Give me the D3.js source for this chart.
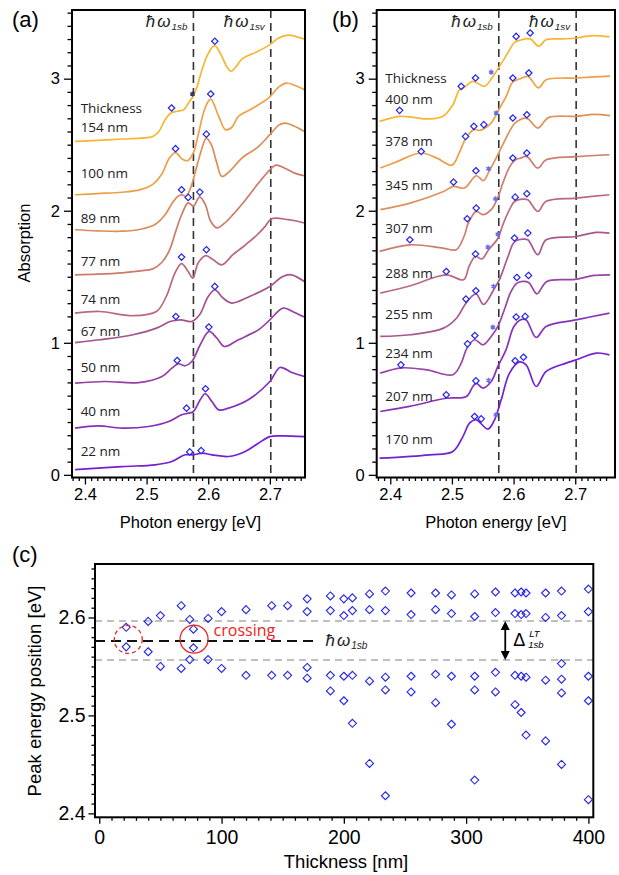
<!DOCTYPE html>
<html><head><meta charset="utf-8">
<script src="https://cdn.jsdelivr.net/npm/d3@7"></script>
<style>
body{margin:0;background:#fff;}
svg{display:block;}
</style></head><body>
<svg id="chart" width="619" height="875"></svg>
<script>
// ================= DATA =================
// Panel (a): thickness (nm) and spectra [photon energy eV, absorption]
const thickA = [154, 100, 89, 77, 74, 67, 50, 40, 22];
const a154 = [[2.384,2.525],[2.42,2.533],[2.46,2.543],[2.49,2.55],[2.51,2.562],[2.52,2.60],[2.53,2.689],[2.54,2.742],[2.55,2.753],[2.56,2.765],[2.57,2.83],[2.576,2.87],[2.582,2.94],[2.59,3.07],[2.60,3.19],[2.61,3.25],[2.62,3.19],[2.63,3.09],[2.637,3.056],[2.645,3.09],[2.655,3.15],[2.68,3.205],[2.70,3.258],[2.715,3.31],[2.73,3.33],[2.745,3.315],[2.756,3.30]];
const a100 = [[2.384,2.121],[2.42,2.13],[2.46,2.14],[2.49,2.16],[2.51,2.20],[2.525,2.28],[2.537,2.40],[2.547,2.44],[2.558,2.39],[2.567,2.38],[2.576,2.44],[2.585,2.60],[2.595,2.78],[2.604,2.845],[2.617,2.714],[2.628,2.614],[2.638,2.63],[2.649,2.714],[2.67,2.77],[2.698,2.854],[2.715,2.94],[2.727,2.967],[2.74,2.95],[2.756,2.917]];
const a89 = [[2.384,1.856],[2.42,1.848],[2.46,1.845],[2.49,1.86],[2.515,1.90],[2.53,1.97],[2.542,2.06],[2.551,2.11],[2.557,2.12],[2.564,2.11],[2.572,2.18],[2.58,2.31],[2.589,2.46],[2.597,2.55],[2.605,2.50],[2.614,2.36],[2.622,2.26],[2.635,2.30],[2.655,2.40],[2.68,2.48],[2.70,2.576],[2.715,2.65],[2.725,2.664],[2.74,2.64],[2.756,2.60]];
const a77 = [[2.384,1.515],[2.42,1.52],[2.46,1.53],[2.49,1.545],[2.51,1.56],[2.525,1.61],[2.537,1.70],[2.547,1.84],[2.556,1.96],[2.5675,2.06],[2.576,2.035],[2.586,2.105],[2.595,2.05],[2.604,1.92],[2.614,1.87],[2.625,1.90],[2.64,1.97],[2.66,2.08],[2.68,2.20],[2.70,2.31],[2.71,2.345],[2.725,2.32],[2.74,2.285],[2.756,2.265]];
const a74 = [[2.384,1.225],[2.424,1.237],[2.478,1.205],[2.516,1.237],[2.532,1.351],[2.546,1.528],[2.5567,1.60],[2.5674,1.54],[2.575,1.49],[2.5836,1.604],[2.596,1.66],[2.608,1.629],[2.622,1.59],[2.64,1.667],[2.66,1.74],[2.68,1.82],[2.692,1.88],[2.703,1.94],[2.73,1.932],[2.756,1.907]];
const a67 = [[2.384,1.002],[2.424,1.023],[2.478,1.061],[2.516,1.111],[2.538,1.161],[2.548,1.17],[2.556,1.174],[2.573,1.161],[2.586,1.212],[2.60,1.351],[2.611,1.40],[2.624,1.339],[2.638,1.301],[2.667,1.351],[2.70,1.427],[2.72,1.50],[2.735,1.515],[2.756,1.464]];
const a50 = [[2.384,0.695],[2.433,0.707],[2.487,0.699],[2.525,0.745],[2.541,0.808],[2.551,0.841],[2.5626,0.826],[2.5734,0.858],[2.587,0.985],[2.6015,1.086],[2.614,1.035],[2.6264,0.972],[2.649,1.023],[2.6815,1.098],[2.70,1.174],[2.7214,1.263],[2.74,1.23],[2.756,1.195]];
const a40 = [[2.384,0.354],[2.422,0.371],[2.46,0.354],[2.503,0.366],[2.536,0.404],[2.557,0.455],[2.568,0.467],[2.576,0.48],[2.587,0.568],[2.595,0.614],[2.606,0.555],[2.617,0.492],[2.633,0.505],[2.665,0.568],[2.70,0.707],[2.7165,0.813],[2.7355,0.775],[2.756,0.745]];
const a22 = [[2.384,0.04],[2.46,0.063],[2.514,0.076],[2.541,0.101],[2.5626,0.152],[2.576,0.152],[2.59,0.164],[2.606,0.152],[2.633,0.139],[2.66,0.177],[2.6815,0.240],[2.70,0.290],[2.719,0.295],[2.756,0.290]];
const spectraA = [a154, a100, a89, a77, a74, a67, a50, a40, a22];
const labelLevelA = [2.634, 2.286, 1.945, 1.623, 1.331, 1.093, 0.813, 0.48, 0.182];
const peaksA = [[2.5405,2.778],[2.6107,3.283],[2.547,2.47],[2.604,2.884],[2.5567,2.159],[2.597,2.58],[2.5675,2.101],[2.5864,2.141],[2.5567,1.649],[2.597,1.705],[2.5475,1.199],[2.6107,1.427],[2.5496,0.866],[2.601,1.119],[2.5648,0.505],[2.5956,0.652],[2.570,0.174],[2.5885,0.184]];
const starsA = [[2.5745,2.884]];

// Panel (b)
const thickB = [400, 378, 345, 307, 288, 255, 234, 207, 170];
const b400 = [[2.3827,2.677],[2.4151,2.715],[2.4313,2.710],[2.4637,2.695],[2.4854,2.715],[2.5016,2.803],[2.5124,2.917],[2.5189,2.930],[2.534,2.980],[2.5529,2.942],[2.5664,3.017],[2.5772,3.093],[2.5907,3.195],[2.6015,3.275],[2.6096,3.290],[2.6269,3.301],[2.6409,3.245],[2.6528,3.295],[2.6798,3.301],[2.7015,3.308],[2.7285,3.326],[2.7555,3.316]];
const b378 = [[2.3838,2.323],[2.41,2.37],[2.4486,2.437],[2.475,2.40],[2.50,2.345],[2.512,2.44],[2.5221,2.545],[2.5356,2.614],[2.545,2.608],[2.5518,2.62],[2.5637,2.664],[2.5745,2.752],[2.588,2.866],[2.5988,2.975],[2.6096,2.997],[2.6231,3.017],[2.6404,2.93],[2.6528,2.992],[2.7015,3.005],[2.7566,3.02]];
const b345 = [[2.3838,2.008],[2.4324,2.058],[2.4864,2.146],[2.5026,2.184],[2.5205,2.172],[2.5394,2.265],[2.5513,2.228],[2.5594,2.29],[2.573,2.41],[2.5945,2.61],[2.6026,2.665],[2.6215,2.70],[2.6393,2.626],[2.6566,2.705],[2.7015,2.715],[2.73,2.73],[2.7566,2.72]];
const b307 = [[2.3827,1.692],[2.4318,1.742],[2.4854,1.717],[2.507,1.705],[2.5205,1.816],[2.526,1.90],[2.5394,1.995],[2.5502,1.97],[2.5637,2.008],[2.5745,2.10],[2.5826,2.21],[2.5934,2.33],[2.6015,2.38],[2.612,2.40],[2.6215,2.41],[2.6393,2.323],[2.6528,2.386],[2.7015,2.41],[2.7555,2.424]];
const b288 = [[2.3838,1.376],[2.4313,1.43],[2.4908,1.515],[2.5188,1.477],[2.528,1.58],[2.5383,1.655],[2.5486,1.635],[2.5594,1.705],[2.5745,1.79],[2.5826,1.894],[2.5934,2.008],[2.6015,2.07],[2.615,2.088],[2.6231,2.083],[2.6393,1.995],[2.6528,2.071],[2.7015,2.096],[2.7555,2.121]];
const b255 = [[2.3838,1.048],[2.4324,1.061],[2.4864,1.111],[2.5081,1.19],[2.5227,1.30],[2.5389,1.37],[2.5513,1.29],[2.5675,1.40],[2.5772,1.48],[2.5907,1.65],[2.6015,1.765],[2.615,1.785],[2.6231,1.78],[2.6393,1.667],[2.6528,1.78],[2.7015,1.805],[2.734,1.836],[2.7555,1.831]];
const b234 = [[2.3838,0.770],[2.4189,0.81],[2.4594,0.795],[2.5016,0.758],[2.5151,0.846],[2.5243,0.96],[2.5367,1.023],[2.5502,0.985],[2.5637,1.048],[2.5745,1.124],[2.585,1.25],[2.595,1.38],[2.605,1.45],[2.615,1.465],[2.625,1.455],[2.6377,1.371],[2.654,1.465],[2.70,1.48],[2.73,1.51],[2.7566,1.515]];
const b207 = [[2.3838,0.48],[2.4313,0.518],[2.4908,0.58],[2.5232,0.593],[2.534,0.669],[2.5394,0.695],[2.5502,0.657],[2.5637,0.707],[2.5745,0.821],[2.588,0.95],[2.60,1.12],[2.61,1.17],[2.62,1.175],[2.6366,1.04],[2.6528,1.124],[2.7015,1.174],[2.7555,1.225]];
const b170 = [[2.3827,0.126],[2.4637,0.152],[2.5016,0.177],[2.5178,0.29],[2.5286,0.391],[2.5394,0.417],[2.5583,0.346],[2.5691,0.417],[2.5799,0.568],[2.5934,0.77],[2.6096,0.855],[2.6204,0.833],[2.6366,0.669],[2.6528,0.783],[2.6852,0.846],[2.7015,0.871],[2.734,0.922],[2.7555,0.909]];
const spectraB = [b400, b378, b345, b307, b288, b255, b234, b207, b170];
const labelLevelB = [2.846, 2.525, 2.197, 1.869, 1.528, 1.22, 0.922, 0.598, 0.273];
const peaksB = [[2.4151,2.76],[2.5151,2.942],[2.5383,3.005],[2.6042,3.32],[2.6269,3.346],
  [2.4502,2.449],[2.5221,2.563],[2.5356,2.639],[2.5518,2.652],[2.5988,3.005],[2.6247,3.043],
  [2.5026,2.217],[2.5389,2.303],[2.5988,2.702],[2.6215,2.727],
  [2.4318,1.78],[2.5248,1.939],[2.5394,2.02],[2.5988,2.399],[2.6215,2.437],
  [2.4908,1.54],[2.5383,1.672],[2.6026,2.103],[2.6215,2.129],
  [2.5227,1.331],[2.5389,1.394],[2.6015,1.793],[2.6231,1.831],
  [2.4173,0.833],[2.5253,0.992],[2.5372,1.055],[2.6053,1.495],[2.6242,1.51],
  [2.4908,0.606],[2.5389,0.712],[2.6042,1.195],[2.6188,1.20],
  [2.5367,0.442],[2.5475,0.424],[2.6026,0.864],[2.6161,0.891]];
const starsB = [[2.5637,3.05],[2.5718,2.74],[2.5594,2.318],[2.5707,2.09],[2.5583,1.725],[2.5745,1.823],[2.5675,1.427],[2.5664,1.119],[2.5594,0.715],[2.5713,0.455]];

// Reference energies (eV)
const hw1sb = 2.576, hw1sv = 2.7015;
const ltUpper = 2.5964, ltLower = 2.5566;

// Panel (c): peak energy positions vs thickness
const cThickness = [22,40,50,67,74,77,89,100,120,141,154,170,189,200,207,221,234,255,275,288,307,324,340,345,349,365,378,400];
const cPeakEnergies = [
  [2.590,2.570],[2.596,2.565],[2.602,2.550],[2.612,2.548],[2.598,2.557],[2.588,2.569],[2.599,2.557],[2.606,2.548],
  [2.608,2.541],[2.612,2.541],[2.612,2.541],
  [2.619,2.606,2.549,2.538],[2.622,2.607,2.541,2.525],[2.619,2.602,2.540,2.515],[2.620,2.607,2.541,2.492],
  [2.624,2.608,2.535,2.451],[2.627,2.607,2.539,2.526,2.418],[2.625,2.603,2.540,2.524],[2.625,2.608,2.542,2.513],
  [2.623,2.604,2.540,2.491],[2.624,2.601,2.540,2.526,2.434],[2.626,2.605,2.544,2.524],[2.625,2.604,2.541,2.511],
  [2.626,2.603,2.540,2.503],[2.625,2.604,2.539,2.480],[2.625,2.600,2.536,2.474],
  [2.627,2.602,2.553,2.537,2.523,2.450],[2.629,2.606,2.540,2.515,2.414]];
const crossingMarks = [[23.7,2.5776],[77.5,2.5779]];

// Curve colours (thick -> thin)
const colorsA = ["#f8b630","#eda046","#dc8d58","#cb7b6a","#ba687c","#a6528f","#963fa6","#872fbd","#761ed4"];
const colorsB = ["#f8b630","#eda046","#e0905a","#cc7d6c","#bb6a7e","#aa5690","#9944a6","#8632bd","#7420d4"];

// ================= DRAW =================
const svg = d3.select("#chart");
const SANS = "'Liberation Sans', Arial, sans-serif";
const LABF = "'Open Sans', 'Liberation Sans', sans-serif";
const diamond = r => `M0,${-r}L${r},0L0,${r}L${-r},0Z`;

function styleAxis(g, fs){
  g.select(".domain").remove();
  g.selectAll(".tick line").attr("stroke","#000").attr("stroke-width",1.3);
  g.selectAll(".tick text").attr("fill","#000").style("font-family",SANS).style("font-size",fs+"px");
}

function hwLabel(g, x, y, sub, fs){
  const t = g.append("text").attr("x",x).attr("y",y).attr("text-anchor","end")
    .style("font-family",SANS).style("font-size",fs+"px").style("font-style","italic").attr("fill","#222");
  t.append("tspan").text("ħ");
  t.append("tspan").attr("dx",2).text("ω");
  t.append("tspan").attr("dx",1).attr("dy",3).style("font-size",(fs*0.58)+"px").text(sub);
  return t;
}

function spectraPanel(cfg){
  const x = d3.scaleLinear().domain(cfg.xDomain).range(cfg.xRange);
  const y = d3.scaleLinear().domain([-0.02,3.52]).range([477.5,10]);
  const g = svg.append("g");
  const [x0,x1] = cfg.xRange, yT = 10, yB = 477.5;
  // dashed reference lines
  [hw1sb, hw1sv].forEach(e=>{
    g.append("line").attr("x1",x(e)).attr("x2",x(e)).attr("y1",yT).attr("y2",yB)
      .attr("stroke","#333").attr("stroke-width",1.6).attr("stroke-dasharray","8,5");
  });
  hwLabel(g, x(hw1sb)-6, 27, "1sb", 17);
  hwLabel(g, x(hw1sv)-6, 27, "1sv", 17);
  // curves
  const line = d3.line().x(d=>x(d[0])).y(d=>y(d[1])).curve(d3.curveCatmullRom.alpha(0.5));
  cfg.spectra.forEach((s,i)=>{
    g.append("path").attr("d",line(s)).attr("fill","none")
      .attr("stroke",cfg.colors[i]).attr("stroke-width",1.7).attr("stroke-linejoin","round");
  });
  // peak markers
  g.selectAll(null).data(cfg.peaks).enter().append("path")
    .attr("d",diamond(3.2)).attr("transform",d=>`translate(${x(d[0])},${y(d[1])})`)
    .attr("fill","#fff").attr("stroke","#2323ee").attr("stroke-width",1.2);
  g.selectAll(null).data(cfg.stars).enter().append("path")
    .attr("d",d3.symbol(d3.symbolAsterisk,18)()).attr("transform",d=>`translate(${x(d[0])},${y(d[1])})`)
    .attr("fill","none").attr("stroke",cfg.starColor).attr("stroke-width",1.4);
  // thickness labels
  g.append("text").attr("x",x(cfg.labelE)).attr("y",y(cfg.wordLevel)).attr("dominant-baseline","central")
    .style("font-family",LABF).style("font-size","13.5px").attr("fill","#222").text("Thickness");
  cfg.thick.forEach((t,i)=>{
    g.append("text").attr("x",x(cfg.labelE)).attr("y",y(cfg.labelLevels[i])).attr("dominant-baseline","central")
      .style("font-family",LABF).style("font-size","13.5px").attr("fill","#222").text(t+" nm");
  });
  // frame
  g.append("rect").attr("x",x0).attr("y",yT).attr("width",x1-x0).attr("height",yB-yT)
    .attr("fill","none").attr("stroke","#000").attr("stroke-width",2);
  // axes
  const yMaj=[0,1,2,3], yMin=d3.range(0,36).filter(i=>i%10!==0).map(i=>i/10);
  styleAxis(g.append("g").attr("transform",`translate(${x0},0)`).call(d3.axisLeft(y).tickValues(yMin).tickSize(4.5).tickFormat("")),16);
  styleAxis(g.append("g").attr("transform",`translate(${x0},0)`).call(d3.axisLeft(y).tickValues(yMaj).tickSize(8).tickPadding(4).tickFormat(d3.format("d"))),16.5);
  const xMaj=[2.4,2.5,2.6,2.7], xMin=d3.range(238,276).filter(i=>i%10!==0).map(i=>i/100).filter(v=>v>=cfg.xDomain[0]&&v<=cfg.xDomain[1]);
  styleAxis(g.append("g").attr("transform",`translate(0,${yB})`).call(d3.axisBottom(x).tickValues(xMin).tickSize(3.5).tickFormat("")),16);
  styleAxis(g.append("g").attr("transform",`translate(0,${yB})`).call(d3.axisBottom(x).tickValues(xMaj).tickSize(7).tickPadding(4).tickFormat(d3.format(".1f"))),16.5);
  // x title
  g.append("text").attr("x",(x0+x1)/2+ (cfg.titleShift||0)).attr("y",528).attr("text-anchor","middle")
    .style("font-family",SANS).style("font-size","16.5px").text("Photon energy [eV]");
  g.append("text").attr("x",cfg.letterX).attr("y",27).style("font-family",SANS).style("font-size","22px").text(cfg.letter);
  return g;
}

spectraPanel({xDomain:[2.379,2.757], xRange:[72,305], spectra:spectraA, colors:colorsA, peaks:peaksA, stars:starsA,
  starColor:"#33336a", thick:thickA, labelLevels:labelLevelA, wordLevel:2.778, labelE:2.393, letter:"(a)", letterX:12, titleShift:2});
spectraPanel({xDomain:[2.378,2.7645], xRange:[376.7,615], spectra:spectraB, colors:colorsB, peaks:peaksB, stars:starsB,
  starColor:"#6b6bf2", thick:thickB, labelLevels:labelLevelB, wordLevel:3.005, labelE:2.3919, letter:"(b)", letterX:332, titleShift:0});

svg.append("text").attr("transform","translate(30,243) rotate(-90)").attr("text-anchor","middle")
  .style("font-family",SANS).style("font-size","16.5px").text("Absorption");

// ---------- Panel (c) ----------
(function(){
  const x = d3.scaleLinear().domain([-3.5,404]).range([95,593.3]);
  const y = d3.scaleLinear().domain([2.396,2.6546]).range([817.3,564]);
  const g = svg.append("g");
  // gray LT lines
  [ltUpper, ltLower].forEach(e=>{
    g.append("line").attr("x1",95).attr("x2",593.3).attr("y1",y(e)).attr("y2",y(e))
      .attr("stroke","#aaa").attr("stroke-width",1.4).attr("stroke-dasharray","7,5");
  });
  // black dashed line
  g.append("line").attr("x1",95).attr("x2",x(179)).attr("y1",y(hw1sb)).attr("y2",y(hw1sb))
    .attr("stroke","#111").attr("stroke-width",1.8).attr("stroke-dasharray","10,6");
  const t = g.append("text").attr("x",x(185)).attr("y",y(hw1sb)+5)
    .style("font-family",SANS).style("font-size","17px").style("font-style","italic").attr("fill","#222");
  t.append("tspan").text("ħ"); t.append("tspan").attr("dx",2).text("ω");
  t.append("tspan").attr("dx",1).attr("dy",3).style("font-size","10px").text("1sb");
  // double arrow
  const ax = x(332);
  g.append("line").attr("x1",ax).attr("x2",ax).attr("y1",y(ltUpper)+7).attr("y2",y(ltLower)-7)
    .attr("stroke","#000").attr("stroke-width",1.8);
  g.append("path").attr("d",`M${ax},${y(ltUpper)}l-4.5,9h9z`).attr("fill","#000");
  g.append("path").attr("d",`M${ax},${y(ltLower)}l-4.5,-9h9z`).attr("fill","#000");
  g.append("text").attr("x",ax+8).attr("y",y((ltUpper+ltLower)/2)+6)
    .style("font-family",SANS).style("font-size","18px").text("Δ");
  g.append("text").attr("x",ax+24).attr("y",y((ltUpper+ltLower)/2)-3)
    .style("font-family",SANS).style("font-size","9.5px").style("font-style","italic").text("LT");
  g.append("text").attr("x",ax+23).attr("y",y((ltUpper+ltLower)/2)+8)
    .style("font-family",SANS).style("font-size","9.5px").style("font-style","italic").text("1sb");
  // peaks
  const pts = [];
  cThickness.forEach((t,i)=>cPeakEnergies[i].forEach(e=>pts.push([t,e])));
  g.selectAll(null).data(pts).enter().append("path").attr("d",diamond(4))
    .attr("transform",d=>`translate(${x(d[0])},${y(d[1])})`)
    .attr("fill","none").attr("stroke","#2323ee").attr("stroke-width",1.1);
  // crossing marks
  g.append("circle").attr("cx",x(crossingMarks[0][0])).attr("cy",y(crossingMarks[0][1])).attr("r",14)
    .attr("fill","none").attr("stroke","#ee2222").attr("stroke-width",1.3).attr("stroke-dasharray","4,3");
  g.append("circle").attr("cx",x(crossingMarks[1][0])).attr("cy",y(crossingMarks[1][1])).attr("r",14)
    .attr("fill","none").attr("stroke","#ee2222").attr("stroke-width",1.3);
  g.append("text").attr("x",x(93.5)).attr("y",y(2.5872)).attr("dominant-baseline","central")
    .style("font-family",LABF).style("font-size","16px").attr("fill","#ee2222").text("crossing");
  // frame + axes
  g.append("rect").attr("x",95).attr("y",564).attr("width",593.3-95).attr("height",817.3-564)
    .attr("fill","none").attr("stroke","#000").attr("stroke-width",2);
  const yMin = d3.range(240,266).filter(i=>i%10!==0).map(i=>i/100);
  styleAxis(g.append("g").attr("transform","translate(95,0)").call(d3.axisLeft(y).tickValues(yMin).tickSize(3.5).tickFormat("")),18);
  styleAxis(g.append("g").attr("transform","translate(95,0)").call(d3.axisLeft(y).tickValues([2.4,2.5,2.6]).tickSize(6.5).tickPadding(3).tickFormat(d3.format(".1f"))),19.5);
  const xMin = d3.range(0,41).filter(i=>i%10!==0).map(i=>i*10);
  styleAxis(g.append("g").attr("transform","translate(0,817.3)").call(d3.axisBottom(x).tickValues(xMin).tickSize(3.5).tickFormat("")),18);
  styleAxis(g.append("g").attr("transform","translate(0,817.3)").call(d3.axisBottom(x).tickValues([0,100,200,300,400]).tickSize(6.5).tickPadding(6).tickFormat(d3.format("d"))),19.5);
  g.append("text").attr("x",346).attr("y",868).attr("text-anchor","middle")
    .style("font-family",SANS).style("font-size","18.5px").text("Thickness [nm]");
  g.append("text").attr("transform","translate(41,691) rotate(-90)").attr("text-anchor","middle")
    .style("font-family",SANS).style("font-size","18.5px").text("Peak energy position [eV]");
  g.append("text").attr("x",12).attr("y",562).style("font-family",SANS).style("font-size","22px").text("(c)");
})();
</script></body></html>
